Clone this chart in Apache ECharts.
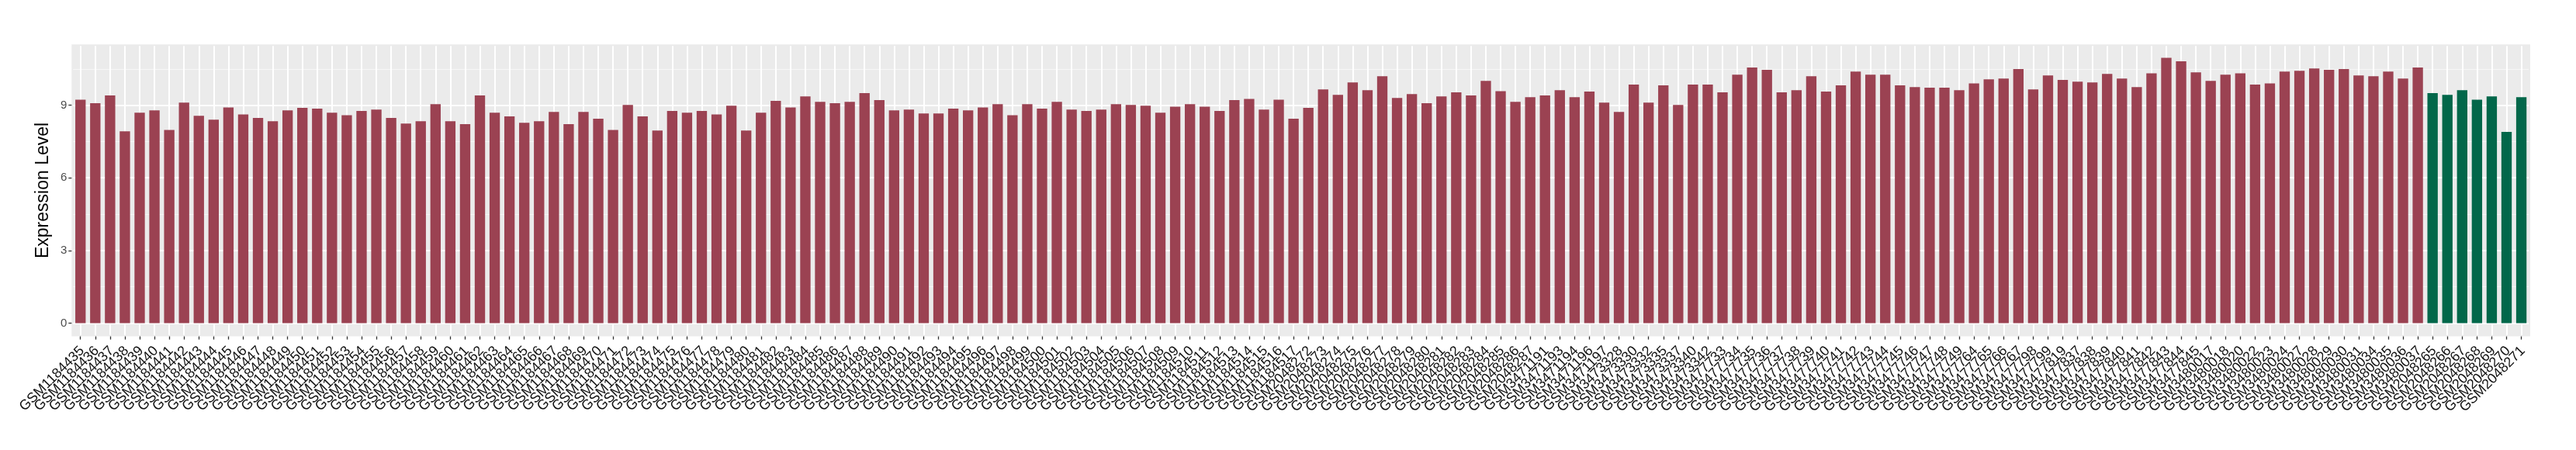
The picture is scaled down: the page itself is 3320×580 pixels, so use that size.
<!DOCTYPE html>
<html>
<head>
<meta charset="utf-8">
<title>Expression Level</title>
<script src="https://cdn.jsdelivr.net/npm/echarts@6/dist/echarts.min.js"></script>
<style>
  html, body { margin: 0; padding: 0; background: #fff; }
  #chart { width: 3320px; height: 580px; }
</style>
</head>
<body>
<div id="chart"></div>
<script>
// samples in plot order (red group first, then green group)
var redSamples = [
  'GSM1184435','GSM1184436','GSM1184437','GSM1184438','GSM1184439','GSM1184440','GSM1184441','GSM1184442',
  'GSM1184443','GSM1184444','GSM1184445','GSM1184446','GSM1184447','GSM1184448','GSM1184449','GSM1184450',
  'GSM1184451','GSM1184452','GSM1184453','GSM1184454','GSM1184455','GSM1184456','GSM1184457','GSM1184458',
  'GSM1184459','GSM1184460','GSM1184461','GSM1184462','GSM1184463','GSM1184464','GSM1184465','GSM1184466',
  'GSM1184467','GSM1184468','GSM1184469','GSM1184470','GSM1184471','GSM1184472','GSM1184473','GSM1184474',
  'GSM1184475','GSM1184476','GSM1184477','GSM1184478','GSM1184479','GSM1184480','GSM1184481','GSM1184482',
  'GSM1184483','GSM1184484','GSM1184485','GSM1184486','GSM1184487','GSM1184488','GSM1184489','GSM1184490',
  'GSM1184491','GSM1184492','GSM1184493','GSM1184494','GSM1184495','GSM1184496','GSM1184497','GSM1184498',
  'GSM1184499','GSM1184500','GSM1184501','GSM1184502','GSM1184503','GSM1184504','GSM1184505','GSM1184506',
  'GSM1184507','GSM1184508','GSM1184509','GSM1184510','GSM1184511','GSM1184512','GSM1184513','GSM1184514',
  'GSM1184515','GSM1184516','GSM1184517',
  'GSM2048272','GSM2048273','GSM2048274','GSM2048275','GSM2048276','GSM2048277','GSM2048278','GSM2048279',
  'GSM2048280','GSM2048281','GSM2048282','GSM2048283','GSM2048284','GSM2048285','GSM2048286','GSM2048287',
  'GSM3471191','GSM3471193','GSM3471194','GSM3471196','GSM3471197',
  'GSM3473328','GSM3473330','GSM3473332','GSM3473335','GSM3473337','GSM3473340','GSM3473342',
  'GSM3477733','GSM3477734','GSM3477735','GSM3477736','GSM3477737','GSM3477738','GSM3477739','GSM3477740',
  'GSM3477741','GSM3477742','GSM3477743','GSM3477744','GSM3477745','GSM3477746','GSM3477747','GSM3477748',
  'GSM3477749','GSM3477764','GSM3477765','GSM3477766','GSM3477767','GSM3477798','GSM3477799','GSM3477819',
  'GSM3477837','GSM3477838','GSM3477839','GSM3477840','GSM3477841','GSM3477842','GSM3477843','GSM3477844',
  'GSM3477845',
  'GSM3480017','GSM3480018','GSM3480020','GSM3480022','GSM3480023','GSM3480024','GSM3480027','GSM3480028',
  'GSM3480029','GSM3480030','GSM3480031','GSM3480034','GSM3480035','GSM3480036','GSM3480037'
];
var redValues = [
  9.23, 9.08, 9.40, 7.92, 8.69, 8.79, 7.98, 9.11, 8.56, 8.40, 8.91, 8.62, 8.47, 8.34, 8.79, 8.89, 8.86,
  8.69, 8.59, 8.76, 8.82, 8.47, 8.24, 8.34, 9.04, 8.34, 8.22, 9.40, 8.69, 8.54, 8.27, 8.34, 8.72, 8.22, 8.72, 8.44, 7.98, 9.01,
  8.54, 7.95, 8.76, 8.69, 8.76, 8.62, 8.98, 7.95, 8.69, 9.18, 8.91, 9.36, 9.14, 9.08, 9.14, 9.50, 9.21, 8.79, 8.82, 8.66, 8.66,
  8.86, 8.79, 8.91, 9.04, 8.59, 9.04, 8.86, 9.14, 8.82, 8.76, 8.82, 9.04, 9.01, 8.98, 8.69, 8.94, 9.04, 8.94, 8.76, 9.21, 9.26,
  8.82, 9.23, 8.44, 8.89, 9.65, 9.43, 9.94, 9.62, 10.20, 9.30, 9.46, 9.08, 9.36, 9.53, 9.40, 10.00, 9.58, 9.14, 9.33, 9.40, 9.62,
  9.33, 9.56, 9.11, 8.72, 9.85, 9.11, 9.82, 9.01, 9.85, 9.85, 9.53, 10.26, 10.56, 10.46, 9.53, 9.62, 10.20, 9.56, 9.82, 10.39, 10.26,
  10.26, 9.82, 9.75, 9.72, 9.72, 9.62, 9.90, 10.07, 10.10, 10.49, 9.65, 10.23, 10.04, 9.97, 9.94, 10.29, 10.10, 9.75, 10.32, 10.96, 10.81,
  10.36, 10.00, 10.26, 10.32, 9.85, 9.90, 10.39, 10.42, 10.52, 10.46, 10.49, 10.23, 10.20, 10.39, 10.10, 10.56
];
var greenSamples = ['GSM2048265','GSM2048266','GSM2048267','GSM2048268','GSM2048269','GSM2048270','GSM2048271'];
var greenValues = [9.50, 9.43, 9.62, 9.23, 9.36, 7.90, 9.33];

var yMajorTicks = [0, 3, 6, 9];
var yMinorTicks = [1.5, 4.5, 7.5, 10.5];

var RED = '#9B4252';
var GREEN = '#02674A';
var FONT = '"Liberation Sans", Arial, sans-serif';

var categories = redSamples.concat(greenSamples);
var barData = redValues.map(function (v) { return { value: v, itemStyle: { color: RED } }; })
  .concat(greenValues.map(function (v) { return { value: v, itemStyle: { color: GREEN } }; }));

// grey panel as ggplot draws it, and its y limits
var panel = { left: 92.3, right: 3261, top: 57.3, bottom: 433.6 };
var yLo = -0.548, yHi = 11.508;
var step = (panel.right - panel.left) / (categories.length + 0.2);
var pad = 0.1 * step;            // ggplot pads a discrete axis by 0.6, echarts by 0.5
var pxPerUnit = (panel.bottom - panel.top) / (yHi - yLo);
var yPad = pad / pxPerUnit;

var chart = echarts.init(document.getElementById('chart'));
chart.setOption({
  animation: false,
  backgroundColor: '#ffffff',
  textStyle: { fontFamily: FONT },
  grid: {
    left: panel.left + pad,
    top: panel.top + pad,
    width: panel.right - panel.left - 2 * pad,
    height: panel.bottom - panel.top - 2 * pad,
    show: true,
    backgroundColor: '#EBEBEB',
    borderColor: '#EBEBEB',
    borderWidth: 2 * pad
  },
  xAxis: {
    type: 'category',
    data: categories,
    offset: pad,
    axisLine: { show: false, onZero: false },
    axisTick: {
      show: true, alignWithLabel: true, interval: 0, length: 4,
      lineStyle: { color: '#333333', width: 1.3 }
    },
    splitLine: {
      show: true, alignWithLabel: true, interval: 0,
      lineStyle: { color: '#ffffff', width: 2 }
    },
    axisLabel: {
      interval: 0, rotate: 45, fontSize: 18, color: '#111111',
      fontFamily: FONT, margin: 18, padding: [0, -3, 0, 0]
    }
  },
  yAxis: [
    {
      type: 'value',
      min: yLo + yPad,
      max: yHi - yPad,
      offset: pad,
      axisLine: { show: false },
      axisTick: {
        show: true, length: 4, customValues: yMajorTicks,
        lineStyle: { color: '#333333', width: 1.3 }
      },
      axisLabel: {
        customValues: yMajorTicks, fontSize: 15, color: '#4D4D4D', margin: 6,
        fontFamily: FONT
      },
      splitLine: { show: true, lineStyle: { color: '#ffffff', width: 2 } },
      name: 'Expression Level',
      nameLocation: 'middle',
      nameRotate: 90,
      nameGap: 10,
      nameTextStyle: { fontSize: 23, color: '#000000', fontFamily: FONT }
    },
    {
      type: 'value',
      min: yLo + yPad,
      max: yHi - yPad,
      axisLine: { show: false },
      axisTick: { show: false, customValues: yMinorTicks },
      axisLabel: { show: false },
      splitLine: { show: true, lineStyle: { color: '#F7F7F7', width: 1 } }
    }
  ],
  series: [{
    type: 'bar',
    data: barData,
    xAxisIndex: 0,
    yAxisIndex: 0,
    barCategoryGap: '30%',
    silent: true
  }]
});
</script>
</body>
</html>
